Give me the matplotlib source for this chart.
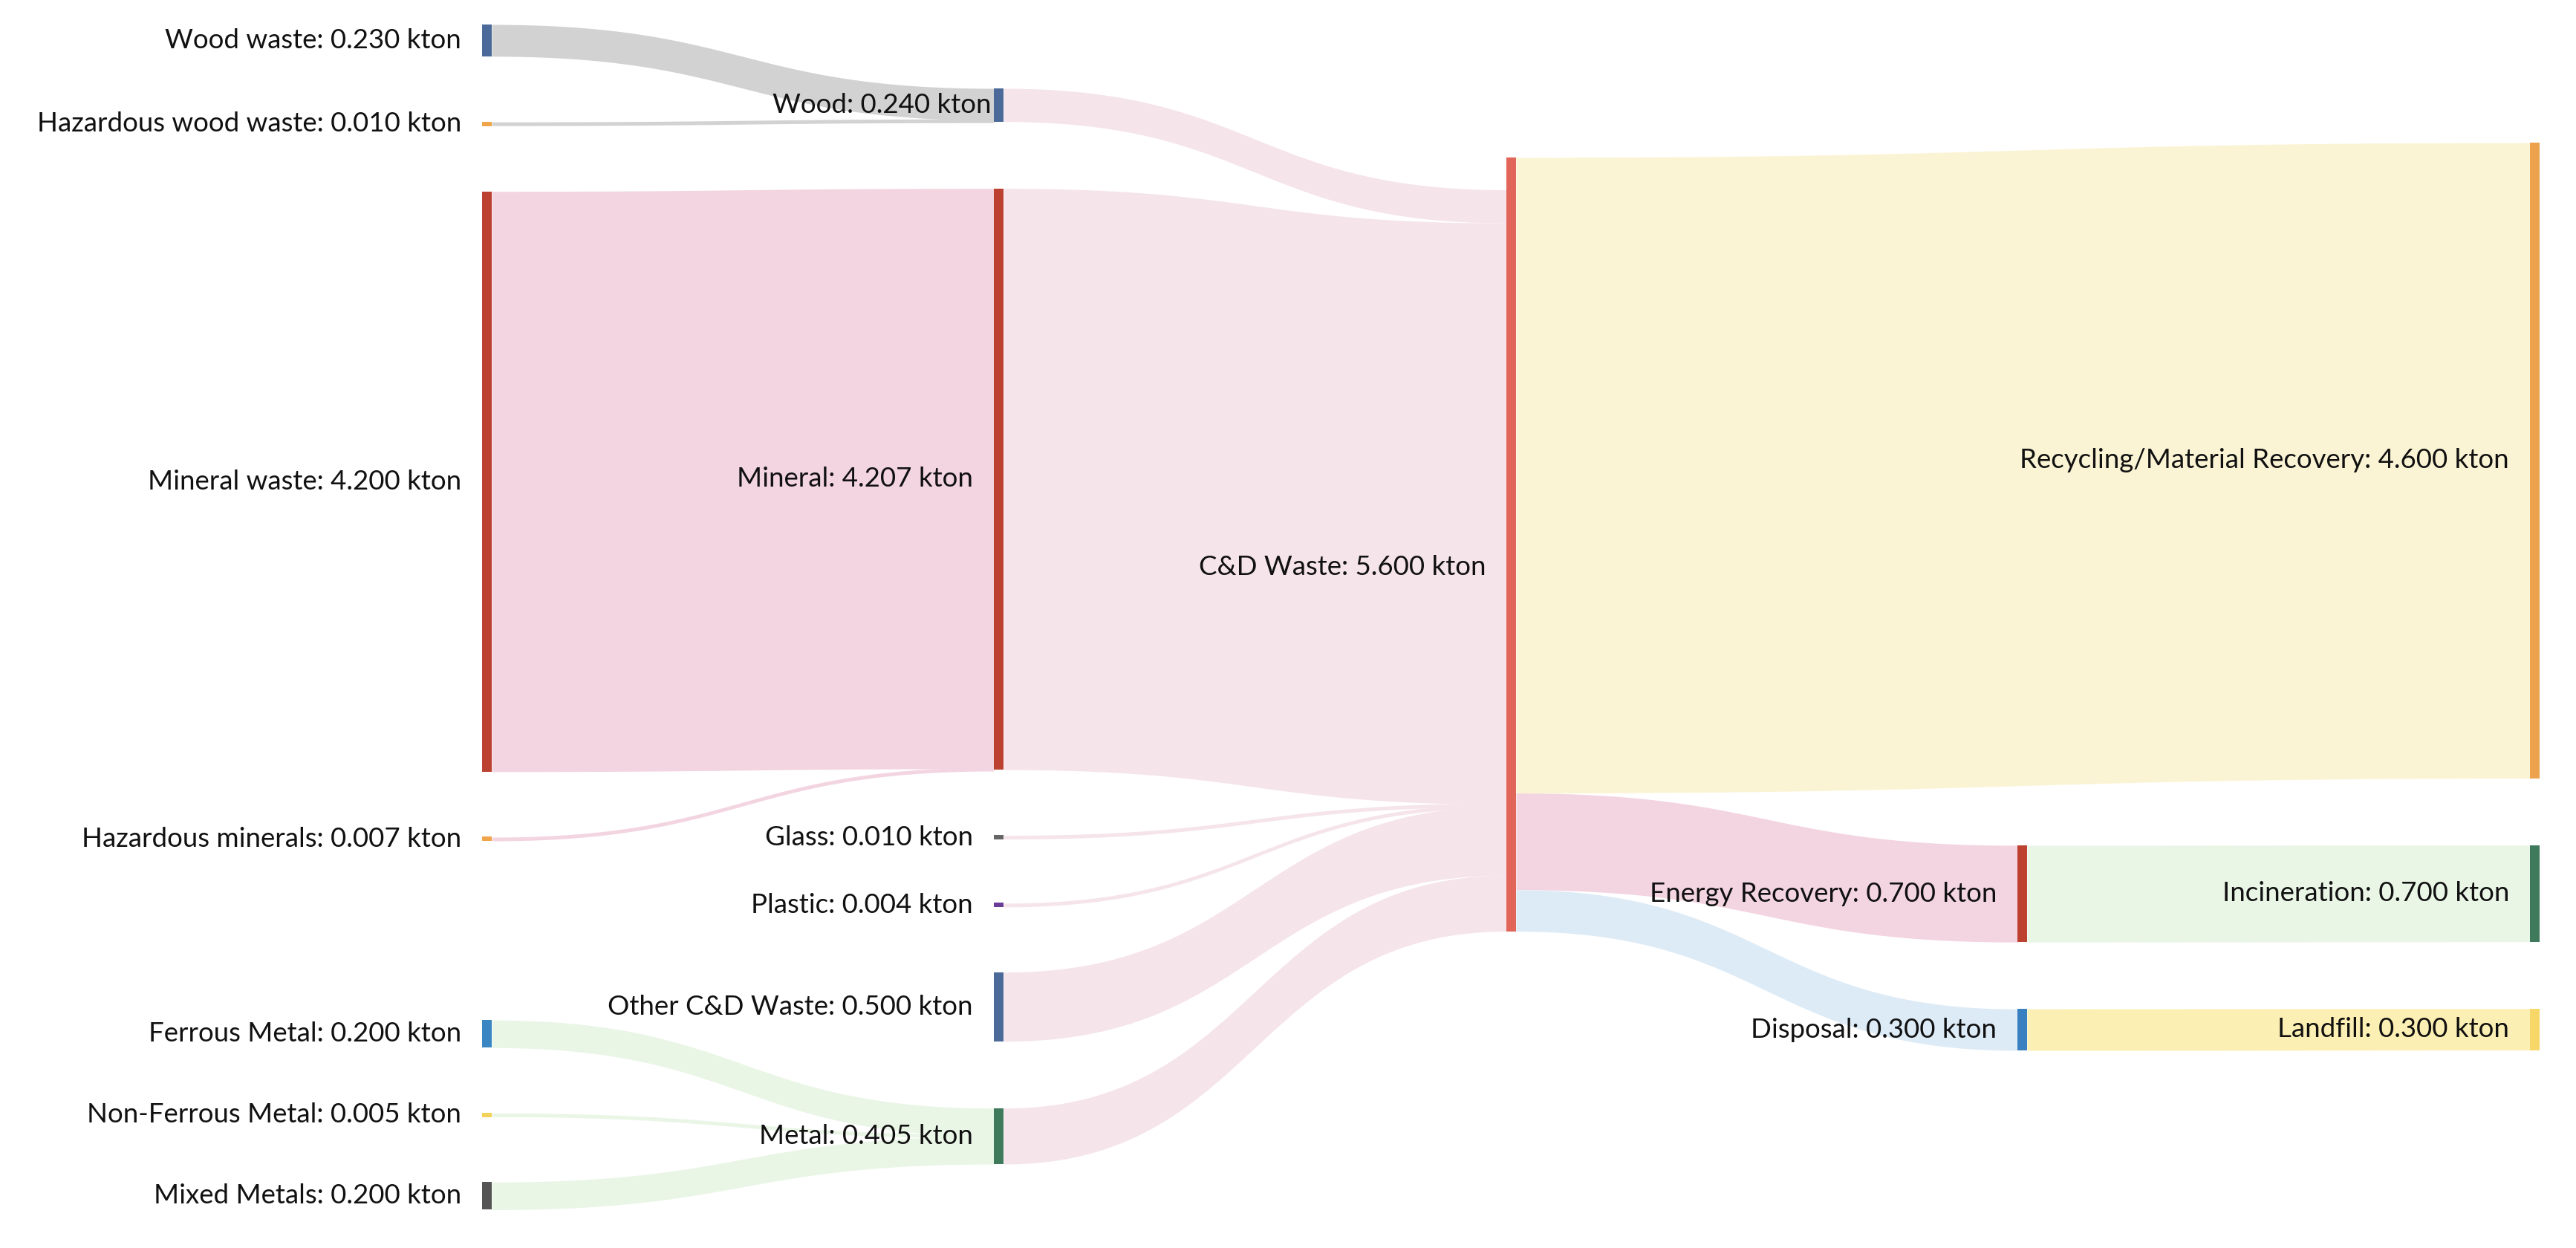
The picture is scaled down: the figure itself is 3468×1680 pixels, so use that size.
import numpy as np
import matplotlib
matplotlib.use("Agg")
import matplotlib.pyplot as plt

# nodes of the sankey
names = ["Wood waste", "Hazardous wood waste", "Mineral waste", "Hazardous minerals",
         "Ferrous Metal", "Non-Ferrous Metal", "Mixed Metals",
         "Wood", "Mineral", "Glass", "Plastic", "Other C&D Waste", "Metal",
         "C&D Waste", "Energy Recovery", "Disposal",
         "Recycling/Material Recovery", "Incineration", "Landfill"]
columns = [0, 0, 0, 0, 0, 0, 0, 1, 1, 1, 1, 1, 1, 2, 3, 3, 4, 4, 4]
node_colors = ["#4b6a99", "#f0a54a", "#bd4130", "#f0a54a", "#3a86c3", "#f3d25a", "#555555",
               "#4b6a99", "#bd4130", "#666666", "#6b3d98", "#4b6a99", "#3f7a5c",
               "#e2655a", "#bd4130", "#3a7fc0", "#eda34e", "#3f7a5c", "#f6d768"]

# links: source, target, value (kton)
sources = ["Wood waste", "Hazardous wood waste", "Mineral waste", "Hazardous minerals",
           "Ferrous Metal", "Non-Ferrous Metal", "Mixed Metals",
           "Wood", "Mineral", "Glass", "Plastic", "Other C&D Waste", "Metal",
           "C&D Waste", "C&D Waste", "C&D Waste", "Energy Recovery", "Disposal"]
targets = ["Wood", "Wood", "Mineral", "Mineral", "Metal", "Metal", "Metal",
           "C&D Waste", "C&D Waste", "C&D Waste", "C&D Waste", "C&D Waste", "C&D Waste",
           "Recycling/Material Recovery", "Energy Recovery", "Disposal",
           "Incineration", "Landfill"]
values = [0.230, 0.010, 4.200, 0.007, 0.200, 0.005, 0.200,
          0.240, 4.207, 0.010, 0.004, 0.500, 0.405,
          4.600, 0.700, 0.300, 0.700, 0.300]
link_colors = ["#d2d2d2", "#d2d2d2", "#f3d5e1", "#f3d5e1", "#e9f6e6", "#e9f6e6", "#e9f6e6",
               "#f6e4eb", "#f6e4eb", "#f6e4eb", "#f6e4eb", "#f6e4eb", "#f6e4eb",
               "#fbf4d4", "#f3d5e1", "#ddebf7", "#e9f6e6", "#fcefb3"]

# layout (pixels)
W, H = 3468, 1680
col_x = [649, 1338, 2028, 2716, 3406]
col_top = [33, 119, 212, 1138, 192]
node_w = 13
scale = 186.0   # px per kton
gap = 90
extra_gap = {"Ferrous Metal": 153}
label_pad = {"Wood": 4}
label_dy = {"C&D Waste": 31}

idx = {n: i for i, n in enumerate(names)}
n_nodes = len(names)
inflow = np.zeros(n_nodes)
outflow = np.zeros(n_nodes)
for s, t, v in zip(sources, targets, values):
    outflow[idx[s]] += v
    inflow[idx[t]] += v
node_val = np.maximum(inflow, outflow)

# stack nodes in each column
y0 = np.zeros(n_nodes)
for c in range(5):
    y = col_top[c]
    for i in range(n_nodes):
        if columns[i] != c:
            continue
        y += extra_gap.get(names[i], 0)
        y0[i] = y
        y += node_val[i] * scale + gap
h = node_val * scale

fig = plt.figure(figsize=(W / 200, H / 200), dpi=200)
ax = fig.add_axes([0, 0, 1, 1])
ax.set_xlim(0, W)
ax.set_ylim(H, 0)
ax.axis("off")

# link offsets: outgoing from top, incoming aligned to bottom
out_off = y0.copy()
in_off = y0 + h - inflow * scale
order = sorted(range(len(values)), key=lambda k: (y0[idx[targets[k]]], y0[idx[sources[k]]]))
src_pos = {}
for k in order:
    s = idx[sources[k]]
    src_pos[k] = out_off[s]
    out_off[s] += values[k] * scale
order = sorted(range(len(values)), key=lambda k: y0[idx[sources[k]]])
tgt_pos = {}
for k in order:
    t = idx[targets[k]]
    tgt_pos[k] = in_off[t]
    in_off[t] += values[k] * scale

tt = np.linspace(0, 1, 200)
b0 = (1 - tt) ** 3 + 3 * (1 - tt) ** 2 * tt
b1 = 1 - b0
for k in range(len(values)):
    s, t = idx[sources[k]], idx[targets[k]]
    xa = col_x[columns[s]] + node_w
    xb = col_x[columns[t]]
    xm = (xa + xb) / 2
    x = (1 - tt) ** 3 * xa + 3 * (1 - tt) ** 2 * tt * xm + 3 * (1 - tt) * tt ** 2 * xm + tt ** 3 * xb
    th = values[k] * scale
    mid = b0 * (src_pos[k] + th / 2) + b1 * (tgt_pos[k] + th / 2)
    th = max(th, 5)
    ax.fill_between(x, mid - th / 2, mid + th / 2, color=link_colors[k], lw=0, zorder=1)

for i in range(n_nodes):
    hh = max(h[i], 6)
    yy = y0[i] + h[i] / 2 - hh / 2
    ax.add_patch(plt.Rectangle((col_x[columns[i]], yy), node_w, hh,
                               color=node_colors[i], lw=0, zorder=3))
    ax.text(col_x[columns[i]] - label_pad.get(names[i], 28),
            y0[i] + h[i] / 2 + label_dy.get(names[i], 0),
            f"{names[i]}: {node_val[i]:.3f} kton", ha="right", va="center",
            fontsize=13.2, family="Lato", color="#111111", zorder=4)

fig.savefig("out.png", dpi=200, facecolor="white")
